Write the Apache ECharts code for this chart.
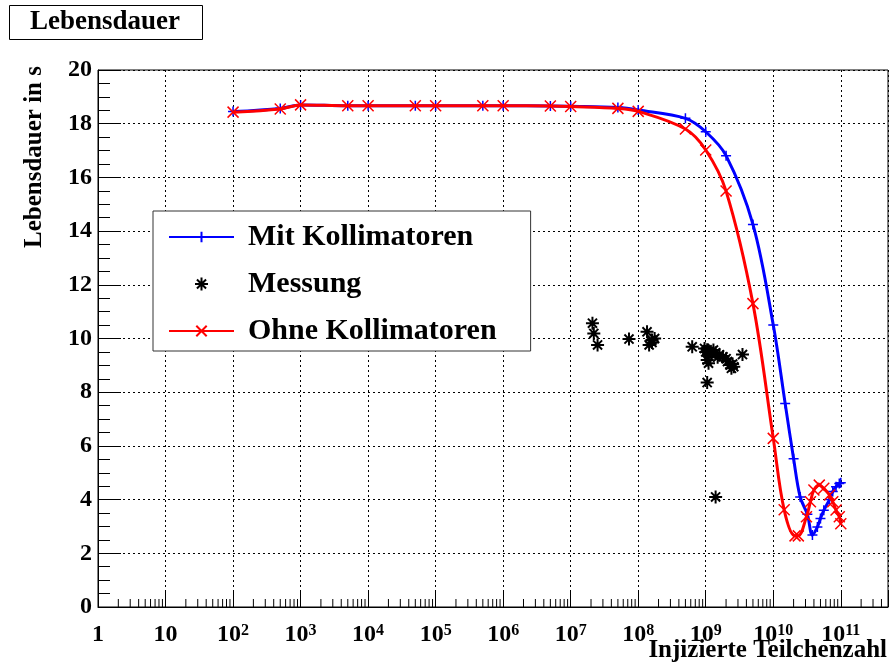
<!DOCTYPE html>
<html>
<head>
<meta charset="utf-8">
<script src="https://cdn.jsdelivr.net/npm/echarts@6/dist/echarts.min.js"></script>
<style>
  html, body { margin: 0; padding: 0; background: #fff; }
  #chart { width: 890px; height: 666px; }
</style>
</head>
<body>
<div id="chart"></div>
<script>
// Lifetime vs. number of injected particles
const mitX = [1e2, 5e2, 1e3, 5e3, 1e4, 5e4, 1e5, 5e5, 1e6, 5e6, 1e7, 5e7, 1e8, 5e8, 1e9, 2e9, 5e9,
  1e10, 1.5e10, 2e10, 2.5e10, 3.2e10, 3.8e10, 4.5e10, 5e10, 5.6e10, 6.8e10, 7.6e10, 8.5e10, 9.5e10, 1e11];
const mitY = [18.45, 18.57, 18.7, 18.67, 18.67, 18.67, 18.67, 18.67, 18.67, 18.66, 18.65, 18.6, 18.51, 18.2, 17.7, 16.81, 14.25,
  10.5, 7.58, 5.52, 4.1, 3.45, 2.68, 2.98, 3.3, 3.6, 4.0, 4.3, 4.48, 4.6, 4.63];

const ohneX = [1e2, 5e2, 1e3, 5e3, 1e4, 5e4, 1e5, 5e5, 1e6, 5e6, 1e7, 5e7, 1e8, 5e8, 1e9, 2e9, 5e9,
  1e10, 1.45e10, 2.1e10, 2.35e10, 3.1e10, 3.55e10, 4e10, 4.8e10, 5.6e10, 6.8e10, 7.6e10, 8.5e10, 9.5e10, 1e11];
const ohneY = [18.43, 18.55, 18.7, 18.67, 18.67, 18.67, 18.67, 18.67, 18.67, 18.66, 18.64, 18.57, 18.46, 17.8, 17.02, 15.49, 11.3,
  6.28, 3.62, 2.65, 2.65, 3.36, 3.92, 4.36, 4.54, 4.42, 4.17, 3.92, 3.61, 3.36, 3.1];

const messX = [2.1e7, 2.2e7, 2.5e7, 7.3e7, 1.35e8, 1.6e8, 1.45e8, 1.75e8, 1.6e8, 6.3e8, 9.6e8, 1.0e9, 1.05e9, 1.1e9,
  1.05e9, 1.1e9, 1.3e9, 1.2e9, 1.4e9, 1.6e9, 1.5e9, 1.8e9, 2.0e9, 2.1e9, 2.3e9, 2.4e9, 2.6e9, 2.5e9, 3.5e9, 1.05e9, 1.4e9];
const messY = [10.57, 10.19, 9.76, 9.98, 10.25, 9.94, 9.76, 10.0, 9.85, 9.69, 9.63, 9.5, 9.58, 9.51,
  9.2, 9.08, 9.57, 9.45, 9.47, 9.39, 9.3, 9.32, 9.25, 9.14, 9.01, 8.89, 8.95, 9.05, 9.4, 8.36, 4.1];

const seriesNames = ['Mit Kollimatoren', 'Messung', 'Ohne Kollimatoren'];
const xMin = 1, xMax = 5e11;
const yMin = 0, yMax = 20, yStep = 2;

const FONT = '"Liberation Serif", "Times New Roman", serif';

const zip = (xs, ys) => xs.map((x, i) => [x, ys[i]]);

// minor ticks of the log axis: 2..9 in every decade
const minorTicks = [];
for (let e = 0; e <= 11; e++) {
  for (let m = 2; m <= 9; m++) {
    const v = m * Math.pow(10, e);
    if (v < xMax) minorTicks.push([v, yMin]);
  }
}

const PLUS = 'path://M0,5L10,5M5,0L5,10';
const CROSS = 'path://M0,0L10,10M10,0L0,10';
const STAR = 'path://M0,5L10,5M5,0L5,10M1.5,1.5L8.5,8.5M8.5,1.5L1.5,8.5';

const chart = echarts.init(document.getElementById('chart'), null, { renderer: 'canvas' });

chart.setOption({
  animation: false,
  backgroundColor: '#fff',
  grid: {
    left: 98, top: 70, right: 2, bottom: 59,
    show: true, borderColor: '#000', borderWidth: 1, backgroundColor: 'transparent',
    containLabel: false, outerBoundsMode: 'none'
  },
  xAxis: {
    type: 'log', logBase: 10, min: xMin, max: xMax, interval: 1,
    axisLine: { show: true, lineStyle: { color: '#000', width: 1 } },
    axisTick: { show: true, inside: true, length: 16, lineStyle: { color: '#000', width: 1 } },
    minorTick: { show: false },
    splitLine: { show: true, lineStyle: { color: '#000', width: 1, type: [2, 3] } },
    axisLabel: {
      margin: 40,
      verticalAlign: 'bottom',
      formatter: function (v) {
        const l = Math.log10(v);
        const e = Math.round(l);
        if (Math.abs(l - e) > 0.01) return '';
        if (e === 0) return '{b|1}';
        if (e === 1) return '{b|10}';
        return '{b|10}{sup|' + e + '}';
      },
      rich: {
        b: { fontFamily: FONT, fontWeight: 'bold', fontSize: 24, lineHeight: 24, color: '#000', verticalAlign: 'bottom' },
        sup: { fontFamily: FONT, fontWeight: 'bold', fontSize: 16, lineHeight: 16, color: '#000', verticalAlign: 'top', padding: [0, 0, 16, 0] }
      }
    }
  },
  yAxis: {
    type: 'value', min: yMin, max: yMax, interval: yStep,
    axisLine: { show: true, lineStyle: { color: '#000', width: 1 } },
    axisTick: { show: true, inside: true, length: 23, lineStyle: { color: '#000', width: 1 } },
    minorTick: { show: true, splitNumber: 4, length: 12, lineStyle: { color: '#000', width: 1 } },
    splitLine: { show: true, lineStyle: { color: '#000', width: 1, type: [2, 3] } },
    axisLabel: { margin: 6, fontFamily: FONT, fontWeight: 'bold', fontSize: 24, color: '#000' }
  },
  legend: {
    orient: 'vertical', left: 153, top: 211,
    padding: [11, 34, 5, 15],
    itemWidth: 65, itemHeight: 13, itemGap: 17,
    backgroundColor: '#fff', borderColor: '#333', borderWidth: 1,
    selectedMode: false,
    textStyle: { fontFamily: FONT, fontWeight: 'bold', fontSize: 30, lineHeight: 30, color: '#000', padding: [0, 0, 0, 9] },
    data: seriesNames
  },
  graphic: [
    {
      type: 'rect', left: 9, top: 5, z: 100,
      shape: { x: 0, y: 0, width: 193, height: 34 },
      style: { fill: '#fff', stroke: '#000', lineWidth: 1 }
    },
    {
      type: 'text', x: 105, y: 22, z: 101,
      style: { text: 'Lebensdauer', font: 'bold 27px ' + FONT, fill: '#000', align: 'center', verticalAlign: 'middle' }
    },
    {
      type: 'text', x: 35, y: 66, rotation: Math.PI / 2, z: 101,
      style: { text: 'Lebensdauer in s', font: 'bold 25px ' + FONT, fill: '#000', align: 'right', verticalAlign: 'middle' }
    },
    {
      type: 'text', x: 887, y: 651, z: 101,
      style: { text: 'Injizierte Teilchenzahl', font: 'bold 25px ' + FONT, fill: '#000', align: 'right', verticalAlign: 'middle' }
    }
  ],
  series: [
    {
      type: 'custom', name: 'minorTicks', silent: true, z: 3,
      renderItem: function (params, api) {
        const p = api.coord([api.value(0), api.value(1)]);
        return {
          type: 'line',
          shape: { x1: p[0], y1: p[1], x2: p[0], y2: p[1] - 8 },
          style: { stroke: '#000', lineWidth: 1 }
        };
      },
      encode: { x: 0, y: 1 },
      data: minorTicks
    },
    {
      type: 'line', name: seriesNames[0], smooth: 0.35,
      data: zip(mitX, mitY),
      showSymbol: true, showAllSymbol: true,
      symbol: PLUS, symbolSize: 10,
      lineStyle: { color: '#0000ff', width: 3 },
      itemStyle: { color: '#0000ff', borderColor: '#0000ff', borderWidth: 1.5 },
      z: 4
    },
    {
      type: 'scatter', name: seriesNames[1],
      data: zip(messX, messY),
      symbol: STAR, symbolSize: 13,
      itemStyle: { color: '#000', borderColor: '#000', borderWidth: 2, opacity: 1 },
      z: 5
    },
    {
      type: 'line', name: seriesNames[2], smooth: 0.35,
      data: zip(ohneX, ohneY),
      showSymbol: true, showAllSymbol: true,
      symbol: CROSS, symbolSize: 11,
      lineStyle: { color: '#ff0000', width: 3 },
      itemStyle: { color: '#ff0000', borderColor: '#ff0000', borderWidth: 1.5 },
      z: 6
    }
  ]
});
</script>
</body>
</html>
